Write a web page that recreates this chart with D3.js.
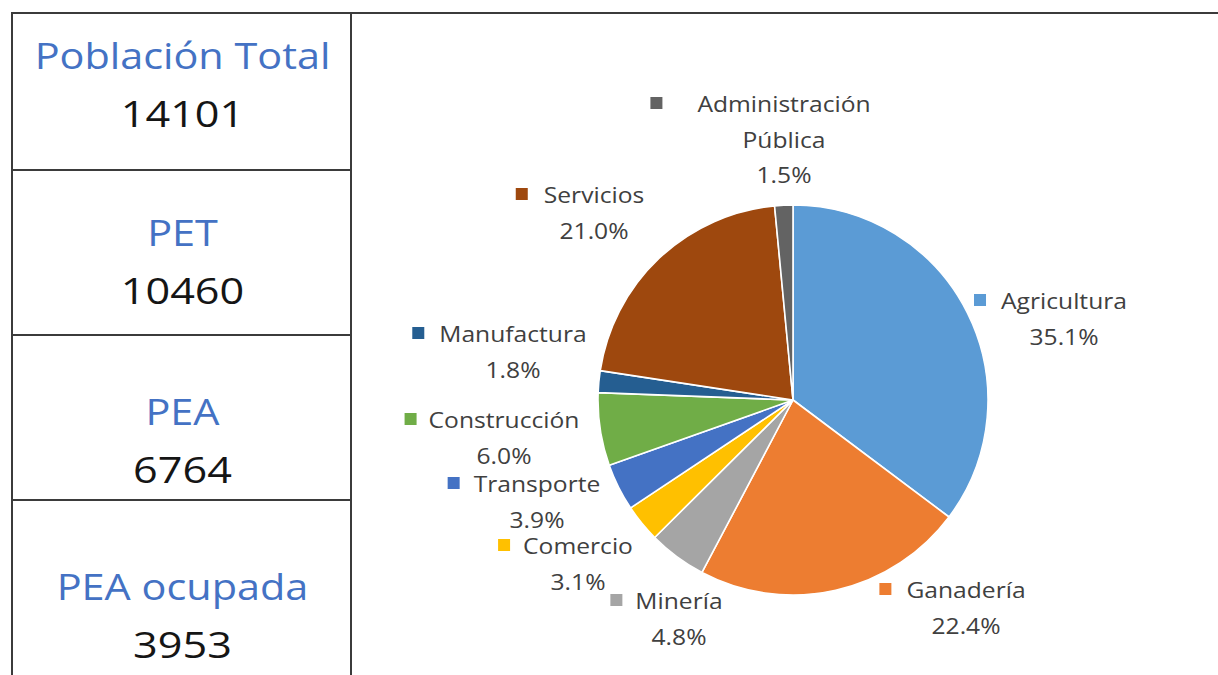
<!DOCTYPE html>
<html>
<head>
<meta charset="utf-8">
<script src="https://cdn.jsdelivr.net/npm/d3@7/dist/d3.min.js"></script>
<style>
  html, body { margin: 0; padding: 0; background: #ffffff; }
  svg { display: block; }
</style>
</head>
<body>
<svg id="chart" width="1218" height="675"></svg>
<script>
// Summary figures for the left-hand table
const summaryTitles = ["Población Total", "PET", "PEA", "PEA ocupada"];
const summaryValues = [14101, 10460, 6764, 3953];

// Employment by sector (percent of occupied PEA), clockwise from 12 o'clock
const sectors = ["Agricultura", "Ganadería", "Minería", "Comercio", "Transporte",
                 "Construcción", "Manufactura", "Servicios", "Administración Pública"];
const sectorShares = [35.1, 22.4, 4.8, 3.1, 3.9, 6.0, 1.8, 21.0, 1.5];
const sectorColors = ["#5B9BD5", "#ED7D31", "#A5A5A5", "#FFC000", "#4472C4",
                      "#70AD47", "#255E91", "#9E480E", "#636363"];

// Label text lines for each sector (name may wrap)
const labelLines = [["Agricultura"], ["Ganadería"], ["Minería"], ["Comercio"], ["Transporte"],
                    ["Construcción"], ["Manufactura"], ["Servicios"], ["Administración", "Pública"]];

// Label placement relative to the pie centre: [dx of text centre, dy of first baseline, key gap]
const labelPlacement = [
  [271, -91, 15], [173, 198, 15], [-114, 209, 13], [-215, 154, 13], [-256, 92, 14],
  [-289, 28, 12], [-280, -58, 15], [-199, -197, 16], [-9, -288, 35]
];

const svg = d3.select("#chart");
const W = 1218, H = 675;

// horizontally widened text, anchored at its middle
function wideText(sel, x, y, str, sx) {
  return sel.append("text")
    .attr("transform", `translate(${x},${y}) scale(${sx},1)`)
    .attr("text-anchor", "middle").text(str);
}

// ---------- table on the left ----------
const table = { left: 12, right: 351, top: 13, rows: [13, 170, 335, 500, 700] };
const lineColor = "#3b3b3b";
const g = svg.append("g");

// top rule spans the whole width
g.append("line").attr("x1", table.left - 1).attr("x2", W).attr("y1", table.top).attr("y2", table.top)
  .attr("stroke", lineColor).attr("stroke-width", 2);
[table.left, table.right].forEach(x => {
  g.append("line").attr("x1", x).attr("x2", x).attr("y1", table.top).attr("y2", H)
    .attr("stroke", lineColor).attr("stroke-width", 2);
});
table.rows.slice(1, 4).forEach(y => {
  g.append("line").attr("x1", table.left).attr("x2", table.right).attr("y1", y).attr("y2", y)
    .attr("stroke", lineColor).attr("stroke-width", 2);
});

const titleBase = [69, 246, 425, 600];
const cellCx = (table.left + table.right) / 2 + 1;
const tg = g.append("g").attr("font-family", "'Open Sans', sans-serif").attr("font-size", 36);
summaryTitles.forEach((t, i) => {
  wideText(tg, cellCx, titleBase[i], t, 1.15).attr("fill", "#4472C4");
  wideText(tg, cellCx, titleBase[i] + 58, d3.format("d")(summaryValues[i]), 1.2).attr("fill", "#151515");
});

// ---------- pie ----------
const cx = 793, cy = 400, radius = 195;
const pieData = sectors.map((s, i) => ({ name: s, value: sectorShares[i], color: sectorColors[i], i }));
const pie = d3.pie().value(d => d.value).sort(null);
const arc = d3.arc().innerRadius(0).outerRadius(radius);
const arcs = pie(pieData);

const pg = svg.append("g").attr("transform", `translate(${cx},${cy})`);
pg.selectAll("path").data(arcs).enter().append("path")
  .attr("d", arc).attr("fill", d => d.data.color)
  .attr("stroke", "#ffffff").attr("stroke-width", 1.6).attr("stroke-linejoin", "round");

// ---------- data labels ----------
const lineGap = 35.5, fs = 22, keySize = 12, labelSx = 1.12;
const pctFmt = d3.format(".1f");
const lg = pg.append("g").attr("font-family", "'Open Sans', sans-serif").attr("font-size", fs).attr("fill", "#404040");
arcs.forEach(a => {
  const i = a.data.i;
  const [dx, dy, gap] = labelPlacement[i];
  const lines = labelLines[i].concat([pctFmt(a.data.value) + "%"]);
  let first = null;
  lines.forEach((ln, k) => {
    const t = wideText(lg, dx, dy + k * lineGap, ln, labelSx);
    if (k === 0) first = t;
  });
  const w = first.node().getComputedTextLength() * labelSx;
  lg.append("rect")
    .attr("x", dx - w / 2 - gap - keySize).attr("y", dy - 9 - keySize / 2)
    .attr("width", keySize).attr("height", keySize)
    .attr("fill", a.data.color);
});
</script>
</body>
</html>
